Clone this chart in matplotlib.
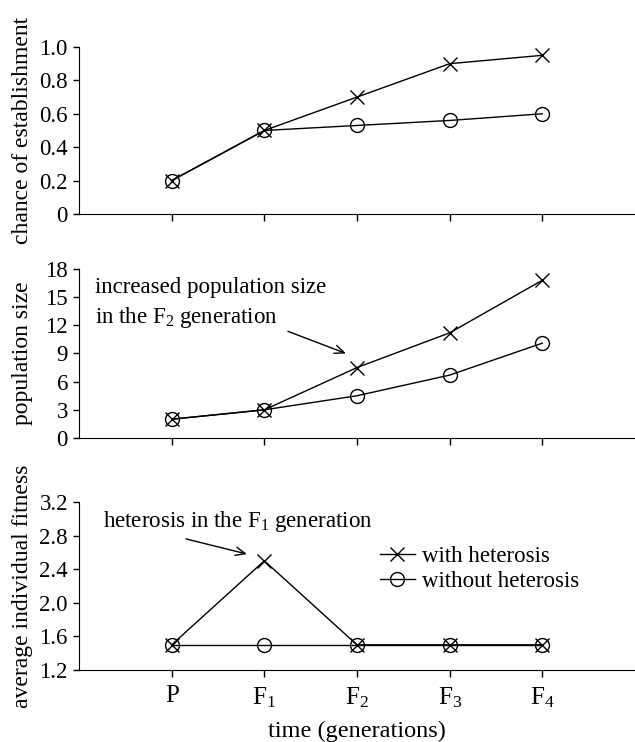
import matplotlib
matplotlib.use("Agg")
import matplotlib.pyplot as plt

plt.rcParams['font.family'] = ['Liberation Serif', 'DejaVu Serif']
plt.rcParams['mathtext.fontset'] = 'custom'
plt.rcParams['mathtext.rm'] = 'Liberation Serif'
plt.rcParams['mathtext.it'] = 'Liberation Serif'

# generations
generations = ["P", "F$_1$", "F$_2$", "F$_3$", "F$_4$"]

# chance of establishment
est_with = [0.2, 0.5, 0.7, 0.9, 0.95]
est_without = [0.2, 0.5, 0.53, 0.56, 0.6]

# population size
pop_with = [2, 3, 7.5, 11.2, 16.8]
pop_without = [2, 3, 4.5, 6.7, 10.1]

# average individual fitness
fit_with = [1.5, 2.5, 1.5, 1.5, 1.5]
fit_without = [1.5, 1.5, 1.5, 1.5, 1.5]

fig = plt.figure(figsize=(6.35, 7.42), dpi=100)
left, width = 0.1244, 0.8756
ax1 = fig.add_axes([left, 0.7116, width, 0.2251])
ax2 = fig.add_axes([left, 0.4097, width, 0.2278])
ax3 = fig.add_axes([left, 0.0970, width, 0.2265])

x = list(range(len(generations)))
mk = dict(color='black', lw=1.0, markersize=10, markerfacecolor='none',
          markeredgewidth=1.0)

panels = [
    (ax1, est_with, est_without, (0, 1.0), [0, 0.2, 0.4, 0.6, 0.8, 1.0],
     ["0", "0.2", "0.4", "0.6", "0.8", "1.0"], "chance of establishment"),
    (ax2, pop_with, pop_without, (0, 18), [0, 3, 6, 9, 12, 15, 18],
     ["0", "3", "6", "9", "12", "15", "18"], "population size"),
    (ax3, fit_with, fit_without, (1.2, 3.2), [1.2, 1.6, 2.0, 2.4, 2.8, 3.2],
     ["1.2", "1.6", "2.0", "2.4", "2.8", "3.2"], "average individual fitness"),
]

for ax, yw, yo, ylim, ticks, tlabels, ylabel in panels:
    ax.plot(x, yw, marker='x', label='with heterosis', **mk)
    ax.plot(x, yo, marker='o', label='without heterosis', **mk)
    ax.set_xlim(-1, 5)
    ax.set_ylim(*ylim)
    ax.set_yticks(ticks)
    ax.set_yticklabels(tlabels)
    ax.set_xticks(x)
    ax.spines['top'].set_visible(False)
    ax.spines['right'].set_visible(False)
    ax.tick_params(axis='y', direction='out', length=4.5, width=1,
                   labelsize=16.5, pad=3.5)
    ax.tick_params(axis='x', direction='out', length=5, width=1,
                   labelsize=18, pad=6)
    ax.set_ylabel(ylabel, fontsize=17)
    ax.yaxis.set_label_coords(-0.083, 0.5)

ax1.set_xticklabels([])
ax2.set_xticklabels([])
ax3.set_xticklabels(generations)
ax3.set_xlabel("time (generations)", fontsize=17.5, labelpad=8)

arrow = dict(arrowstyle='->,head_length=0.7,head_width=0.3', color='black',
             lw=1, shrinkA=0, shrinkB=0)

# annotation, middle panel
ax2.text(-0.827, 15.4, "increased population size", fontsize=16.5,
         ha='left', va='baseline')
ax2.text(-0.827, 12.2, "in the F$_2$ generation", fontsize=16.5,
         ha='left', va='baseline')
ax2.annotate("", xy=(1.881, 9.0), xytext=(1.255, 11.36), arrowprops=arrow)

# annotation, bottom panel
ax3.text(-0.741, 2.90, "heterosis in the F$_1$ generation", fontsize=16.5,
         ha='left', va='baseline')
ax3.annotate("", xy=(0.813, 2.58), xytext=(0.155, 2.76), arrowprops=arrow)

ax3.legend(loc='upper left', bbox_to_anchor=(0.541, 0.74), frameon=False,
           fontsize=16.5, handlelength=1.53, handletextpad=0.3,
           labelspacing=0.18, borderaxespad=0, borderpad=0)

fig.savefig("out.png", dpi=100)
